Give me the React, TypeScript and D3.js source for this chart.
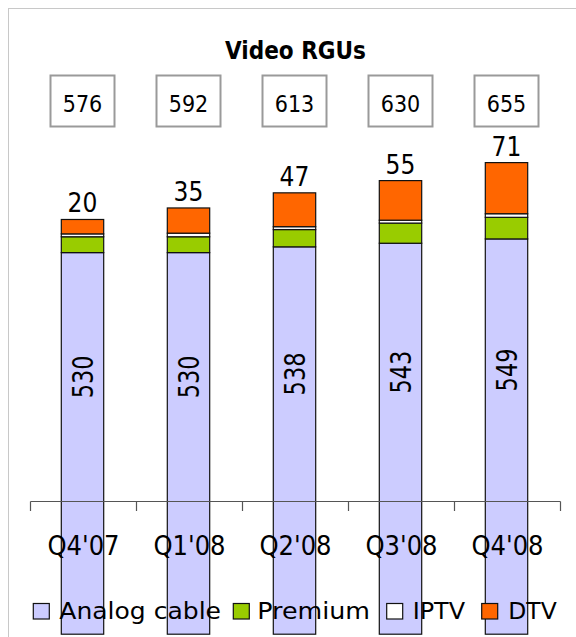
import React from "react";
import * as d3 from "d3";

const categories = ["Q4'07", "Q1'08", "Q2'08", "Q3'08", "Q4'08"];
const analog = [530, 530, 538, 543, 549];
const premium = [22, 22, 24, 28, 30];
const iptv = [4, 5, 4, 4, 5];
const dtv = [20, 35, 47, 55, 71];
const totals = [576, 592, 613, 630, 655];
const seriesNames = ["Analog cable", "Premium", "IPTV", "DTV"];
const seriesColors = ["#CCCCFF", "#99CC00", "#FFFFFF", "#FF6600"];

const W = 576;
const H = 637;
const FONT = "'DejaVu Sans Condensed', 'DejaVu Sans', sans-serif";

export default function App() {
  const x = d3.scaleBand<string>().domain(categories).range([30.5, 560.5]).padding(0);
  const y = d3.scaleLinear().domain([185, 700]).range([501, 501 - 515 * 0.72]);
  const barW = x.bandwidth() * 0.4;

  const rows = categories.map((c, i) => ({
    cat: c,
    analog: analog[i],
    premium: premium[i],
    iptv: iptv[i],
    dtv: dtv[i],
    total: totals[i],
  }));
  const keys = ["analog", "premium", "iptv", "dtv"];
  const stack = d3.stack<any>().keys(keys)(rows);

  const legendLayout = [
    { sq: 33.3, tx: 59.3, len: 161.7 },
    { sq: 233.3, tx: 257.3, len: 112.7 },
    { sq: 386.7, tx: 412.7, len: 52.3 },
    { sq: 481.7, tx: 508.3, len: 48.4 },
  ];

  const cx = (c: string) => (x(c) as number) + x.bandwidth() / 2 - 1;

  return (
    <svg width={W} height={H} style={{ position: "absolute", left: 0, top: 0 }}>
      <rect x={0} y={0} width={W} height={H} fill="#fff" />
      {/* frame */}
      <line x1={8.5} y1={8} x2={8.5} y2={H} stroke="#c8c8c8" strokeWidth={1} />
      <line x1={8} y1={8.5} x2={W} y2={8.5} stroke="#c8c8c8" strokeWidth={1} />

      <text x={295.5} y={59.3} textAnchor="middle" fontFamily={FONT} fontWeight="bold" fontSize={24} fill="#000">
        Video RGUs
      </text>

      {/* total boxes */}
      {rows.map((r) => (
        <g key={"box" + r.cat}>
          <rect x={cx(r.cat) - 32} y={75.5} width={64} height={51} fill="#fff" stroke="#9a9a9a" strokeWidth={2} />
          <text x={cx(r.cat)} y={111.5} textAnchor="middle" fontFamily={FONT} fontSize={23} fill="#000">
            {r.total}
          </text>
        </g>
      ))}

      {/* bars */}
      {stack.map((s, si) => (
        <g key={"s" + si}>
          {s.map((d, i) => (
            <rect
              key={i}
              x={cx(categories[i]) - barW / 2}
              y={y(d[1])}
              width={barW}
              height={y(d[0]) - y(d[1])}
              fill={seriesColors[si]}
              stroke="#111"
              strokeWidth={1.2}
            />
          ))}
        </g>
      ))}

      {/* DTV labels */}
      {rows.map((r) => (
        <text key={"dl" + r.cat} x={cx(r.cat)} y={y(r.total) - 7} textAnchor="middle" fontFamily={FONT} fontSize={26} fill="#000">
          {r.dtv}
        </text>
      ))}

      {/* analog labels */}
      {rows.map((r) => {
        const my = (y(185) + y(r.analog)) / 2;
        return (
          <text
            key={"al" + r.cat}
            transform={`translate(${cx(r.cat)},${my}) rotate(-90) scale(1,1.15)`}
            textAnchor="middle"
            dominantBaseline="central"
            fontFamily={FONT}
            fontSize={25}
            fill="#000"
          >
            {r.analog}
          </text>
        );
      })}

      {/* axis */}
      <line x1={30.5} y1={501.5} x2={560.5} y2={501.5} stroke="#555" strokeWidth={1.2} />
      {[...categories.map((c) => x(c) as number), 560.5].map((t, i) => (
        <line key={"t" + i} x1={t} y1={501.5} x2={t} y2={511} stroke="#555" strokeWidth={1.2} />
      ))}
      {categories.map((c) => (
        <text key={"xl" + c} x={(x(c) as number) + x.bandwidth() / 2} y={555} textAnchor="middle" fontFamily={FONT} fontSize={27} fill="#000">
          {c}
        </text>
      ))}

      {/* legend */}
      {seriesNames.map((n, i) => (
        <g key={"lg" + n}>
          <rect x={legendLayout[i].sq} y={603.5} width={16} height={15.5} fill={seriesColors[i]} stroke="#111" strokeWidth={1.2} />
          <text
            x={legendLayout[i].tx}
            y={619}
            fontFamily={FONT}
            fontSize={23}
            textLength={legendLayout[i].len}
            lengthAdjust="spacingAndGlyphs"
            fill="#000"
          >
            {n}
          </text>
        </g>
      ))}
    </svg>
  );
}
